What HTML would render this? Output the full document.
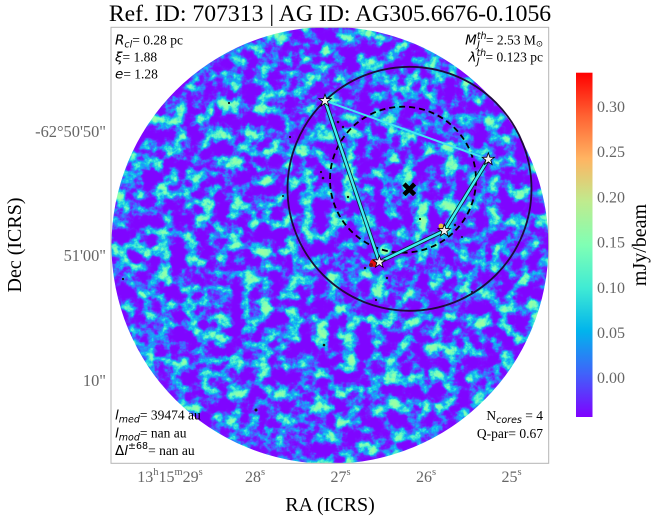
<!DOCTYPE html>
<html><head><meta charset="utf-8"><style>
html,body{margin:0;padding:0;background:#fff;}
svg{display:block;}
</style></head><body>
<svg width="653" height="520" viewBox="0 0 653 520" xmlns="http://www.w3.org/2000/svg">
<defs>
<clipPath id="disc"><circle cx="330" cy="245.3" r="218.5"/></clipPath>
<filter id="nz" x="0" y="0" width="1" height="1" color-interpolation-filters="sRGB">
<feTurbulence type="fractalNoise" baseFrequency="0.07" numOctaves="5" seed="11" result="t"/>
<feColorMatrix in="t" type="matrix" values="1 0 0 0 0  1 0 0 0 0  1 0 0 0 0  0 0 0 0 1"/>
<feComponentTransfer>
<feFuncR type="table" tableValues="0.5 0.5 0.5 0.5 0.5 0.5 0.5 0.5 0.5 0.45 0.32 0.18 0.06 0.15 0.35 0.5 0.55 0.6 0.6 0.6 0.6"/>
<feFuncG type="table" tableValues="0.02 0.02 0.02 0.02 0.02 0.02 0.02 0.02 0.04 0.12 0.32 0.52 0.7 0.85 0.95 1 1 1 1 1 1"/>
<feFuncB type="table" tableValues="1 1 1 1 1 1 1 1 1 1 1 0.99 0.95 0.88 0.8 0.72 0.68 0.65 0.65 0.65 0.65"/>
<feFuncA type="table" tableValues="1 1"/>
</feComponentTransfer>
</filter>
<linearGradient id="cb" x1="0" y1="1" x2="0" y2="0">
<stop offset="0" stop-color="#8000ff"/>
<stop offset="0.125" stop-color="#4062fa"/>
<stop offset="0.25" stop-color="#01b4ec"/>
<stop offset="0.375" stop-color="#40ebd4"/>
<stop offset="0.5" stop-color="#80ffb4"/>
<stop offset="0.625" stop-color="#bfeb8e"/>
<stop offset="0.75" stop-color="#ffb462"/>
<stop offset="0.875" stop-color="#ff6232"/>
<stop offset="1" stop-color="#ff0000"/>
</linearGradient>
<polygon id="st" points="0,-6.5 1.53,-2.1 6.18,-2.01 2.47,0.8 3.82,5.26 0,2.6 -3.82,5.26 -2.47,0.8 -6.18,-2.01 -1.53,-2.1" fill="#f2f2f2" stroke="#000" stroke-width="0.8"/>
</defs>

<!-- title -->
<text x="330" y="21" text-anchor="middle" font-family="Liberation Serif, serif" font-size="23.7" fill="#000">Ref. ID: 707313 | AG ID: AG305.6676-0.1056</text>

<!-- data disc -->
<rect x="111" y="27" width="438" height="437" fill="#6a30ff" filter="url(#nz)" clip-path="url(#disc)"/>

<!-- scattered dots -->
<g fill="#111">
<circle cx="338" cy="122" r="1.3"/><circle cx="343" cy="127" r="1.2"/><circle cx="323" cy="178" r="1.3"/>
<circle cx="321" cy="172" r="1.1"/><circle cx="348" cy="197" r="1.2"/><circle cx="420" cy="219" r="1.1"/>
<circle cx="387" cy="278" r="1.2"/><circle cx="376" cy="300" r="1.1"/><circle cx="324" cy="345" r="1.3"/>
<circle cx="256" cy="410" r="1.5"/><circle cx="229" cy="103" r="1.1"/><circle cx="290" cy="137" r="1.1"/>
<circle cx="283" cy="196" r="1"/><circle cx="472" cy="292" r="1"/><circle cx="123" cy="279" r="1.1"/>
<circle cx="455" cy="225" r="1.2"/><circle cx="462" cy="237" r="1"/><circle cx="365" cy="268" r="1.2"/>
</g>
<circle cx="374" cy="263" r="4" fill="#e01010"/>
<circle cx="371" cy="265" r="2" fill="#801010"/>
<circle cx="441" cy="226" r="2.5" fill="#e0c040"/>

<!-- circles -->
<circle cx="409.5" cy="188.8" r="122" fill="none" stroke="#1e0a3c" stroke-width="1.8"/>
<circle cx="403" cy="179.7" r="73" fill="none" stroke="#000" stroke-width="1.8" stroke-dasharray="6,4"/>

<!-- MST lines -->
<line x1="325" y1="100.7" x2="488.3" y2="159.3" stroke="#40e6f4" stroke-width="2"/>
<g stroke="#0a2a3a" stroke-width="4.2" stroke-linecap="round">
<line x1="325" y1="100.7" x2="379.3" y2="262"/>
<line x1="379.3" y1="262" x2="444.3" y2="230.7"/>
<line x1="444.3" y1="230.7" x2="488.3" y2="159.3"/>
</g>
<g stroke="#3ff0f4" stroke-width="2.4" stroke-linecap="round">
<line x1="325" y1="100.7" x2="379.3" y2="262"/>
<line x1="379.3" y1="262" x2="444.3" y2="230.7"/>
<line x1="444.3" y1="230.7" x2="488.3" y2="159.3"/>
</g>

<!-- stars -->
<use href="#st" x="325" y="100.7"/>
<use href="#st" x="488.3" y="159.3"/>
<use href="#st" x="444.3" y="230.7"/>
<use href="#st" x="379.3" y="262"/>

<!-- X marker -->
<g stroke="#000" stroke-width="4.5">
<line x1="404" y1="184" x2="414.6" y2="194.6"/>
<line x1="404" y1="194.6" x2="414.6" y2="184"/>
</g>

<!-- frame -->
<rect x="111" y="27.3" width="437.7" height="436" fill="none" stroke="#b4b4b4" stroke-width="1"/>

<!-- corner annotations -->
<g font-family="Liberation Serif, serif" font-size="13.5" fill="#000">
<text x="115" y="44.5"><tspan font-family="DejaVu Sans, sans-serif" font-style="italic">R</tspan><tspan font-family="DejaVu Sans, sans-serif" font-style="italic" font-size="9.5" dy="3">cl</tspan><tspan dy="-3">= 0.28 pc</tspan></text>
<text x="115" y="61.5"><tspan font-family="DejaVu Sans, sans-serif" font-style="italic">ξ</tspan>= 1.88</text>
<text x="115" y="78.5"><tspan font-family="DejaVu Sans, sans-serif" font-style="italic">e</tspan>= 1.28</text>

<text x="543" y="44.5" text-anchor="end"><tspan font-family="DejaVu Sans, sans-serif" font-style="italic">M</tspan><tspan font-family="DejaVu Sans, sans-serif" font-style="italic" font-size="9.5" dy="-5.5">th</tspan><tspan font-family="DejaVu Sans, sans-serif" font-style="italic" font-size="9.5" dx="-9.5" dy="8.5">J</tspan><tspan dx="6" dy="-3">= 2.53 M</tspan><tspan font-family="DejaVu Sans, sans-serif" font-size="8.5" dy="2">⊙</tspan></text>
<text x="543" y="61.5" text-anchor="end"><tspan font-family="DejaVu Sans, sans-serif" font-style="italic">λ</tspan><tspan font-family="DejaVu Sans, sans-serif" font-style="italic" font-size="9.5" dy="-5.5">th</tspan><tspan font-family="DejaVu Sans, sans-serif" font-style="italic" font-size="9.5" dx="-9.5" dy="8.5">J</tspan><tspan dx="6" dy="-3">= 0.123 pc</tspan></text>

<text x="115" y="419.5"><tspan font-family="DejaVu Sans, sans-serif" font-style="italic">l</tspan><tspan font-family="DejaVu Sans, sans-serif" font-style="italic" font-size="9.5" dy="3">med</tspan><tspan dy="-3">= 39474 au</tspan></text>
<text x="115" y="437.5"><tspan font-family="DejaVu Sans, sans-serif" font-style="italic">l</tspan><tspan font-family="DejaVu Sans, sans-serif" font-style="italic" font-size="9.5" dy="3">mod</tspan><tspan dy="-3">= nan au</tspan></text>
<text x="115" y="455"><tspan font-family="DejaVu Sans, sans-serif">Δ</tspan><tspan font-family="DejaVu Sans, sans-serif" font-style="italic">l</tspan><tspan font-family="DejaVu Sans, sans-serif" font-size="9.5" dy="-6">±68</tspan><tspan dy="6">= nan au</tspan></text>

<text x="543" y="420" text-anchor="end">N<tspan font-family="DejaVu Sans, sans-serif" font-style="italic" font-size="9.5" dy="3">cores</tspan><tspan dy="-3"> = 4</tspan></text>
<text x="543" y="438" text-anchor="end">Q-par= 0.67</text>
</g>

<!-- y tick labels -->
<g font-family="Liberation Serif, serif" font-size="16.4" fill="#666" text-anchor="end">
<text x="106" y="137">-62°50'50"</text>
<text x="106" y="261">51'00"</text>
<text x="106" y="386">10"</text>
</g>

<!-- x tick labels -->
<g font-family="Liberation Serif, serif" font-size="16" fill="#666" text-anchor="middle">
<text x="170" y="482">13<tspan font-size="10.5" dy="-7">h</tspan><tspan dy="7">15</tspan><tspan font-size="10.5" dy="-7">m</tspan><tspan dy="7">29</tspan><tspan font-size="10.5" dy="-7">s</tspan></text>
<text x="255" y="482">28<tspan font-size="10.5" dy="-7">s</tspan></text>
<text x="340.5" y="482">27<tspan font-size="10.5" dy="-7">s</tspan></text>
<text x="426" y="482">26<tspan font-size="10.5" dy="-7">s</tspan></text>
<text x="511.5" y="482">25<tspan font-size="10.5" dy="-7">s</tspan></text>
</g>

<!-- axis labels -->
<text x="330" y="511" text-anchor="middle" font-family="Liberation Serif, serif" font-size="20" fill="#000">RA (ICRS)</text>
<text transform="translate(21,245) rotate(-90)" text-anchor="middle" font-family="Liberation Serif, serif" font-size="20" fill="#000">Dec (ICRS)</text>

<!-- colorbar -->
<rect x="576" y="72.7" width="16.5" height="344.3" fill="url(#cb)"/>
<g font-family="Liberation Serif, serif" font-size="16" fill="#666">
<text x="597" y="112">0.30</text>
<text x="597" y="157.2">0.25</text>
<text x="597" y="202.4">0.20</text>
<text x="597" y="247.6">0.15</text>
<text x="597" y="292.8">0.10</text>
<text x="597" y="338">0.05</text>
<text x="597" y="383.2">0.00</text>
</g>
<text transform="translate(646,245) rotate(-90)" text-anchor="middle" font-family="Liberation Serif, serif" font-size="20" fill="#000">mJy/beam</text>
</svg>
</body></html>
